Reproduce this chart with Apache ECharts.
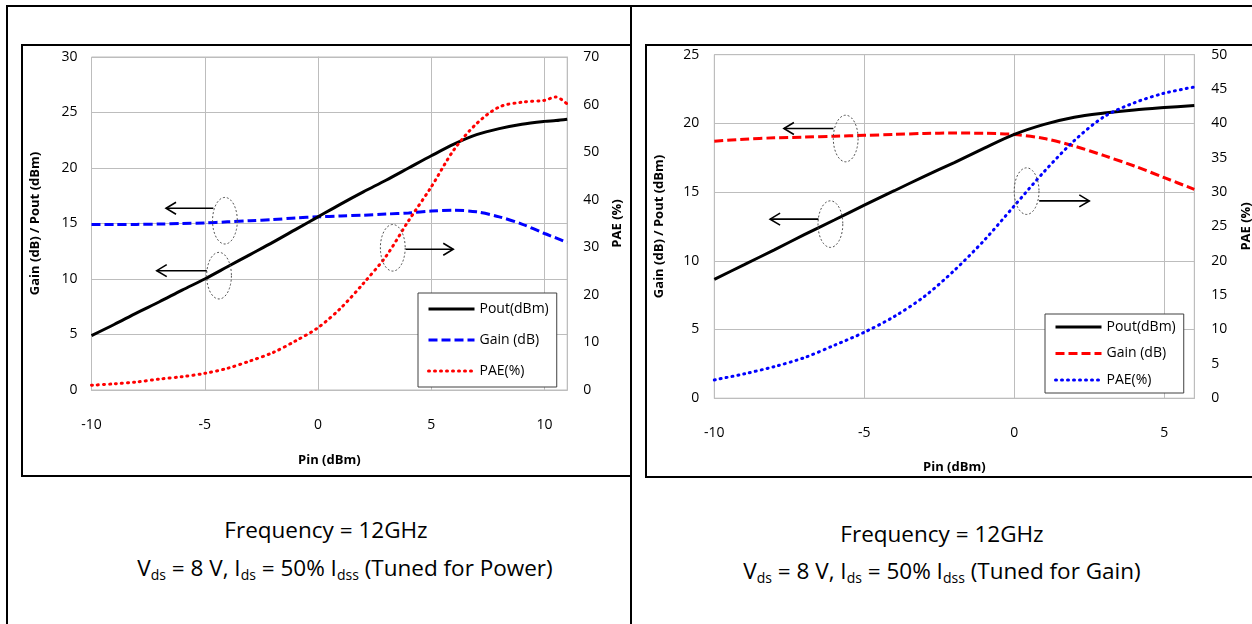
<!DOCTYPE html>
<html>
<head>
<meta charset="utf-8">
<script src="https://cdn.jsdelivr.net/npm/echarts@6/dist/echarts.min.js"></script>
<style>
  html, body { margin:0; padding:0; background:#fff; }
  body { width:1252px; height:624px; position:relative; overflow:hidden; font-family:'Open Sans', sans-serif; }
  .abs { position:absolute; background:#fff; }
  .line { position:absolute; background:#000; }
  .box { position:absolute; border:2px solid #000; box-sizing:border-box; pointer-events:none; }
  .cap { position:absolute; font-size:22.5px; color:#000; white-space:nowrap; transform:translateX(-50%); line-height:1; }
  .cap sub { font-size:14px; vertical-align:-4px; line-height:0; }
</style>
</head>
<body>
<div class="line" style="left:6px;top:5px;width:1246px;height:2px;"></div>
<div class="line" style="left:6px;top:5px;width:2px;height:619px;"></div>
<div class="line" style="left:630px;top:5px;width:2px;height:619px;"></div>

<div id="cL" class="abs" style="left:22px;top:44px;width:610px;height:432px;"></div>
<div id="cR" class="abs" style="left:646px;top:44px;width:606px;height:434px;"></div>
<div class="box" style="left:21px;top:44px;width:611px;height:433px;"></div>
<div class="box" style="left:645px;top:44px;width:640px;height:434px;"></div>

<div class="cap" style="left:326px;top:519px;">Frequency = 12GHz</div>
<div class="cap" style="left:345px;top:557px;">V<sub>ds</sub> = 8 V, I<sub>ds</sub> = 50% I<sub>dss</sub> (Tuned for Power)</div>
<div class="cap" style="left:942px;top:523px;">Frequency = 12GHz</div>
<div class="cap" style="left:942px;top:560px;">V<sub>ds</sub> = 8 V, I<sub>ds</sub> = 50% I<sub>dss</sub> (Tuned for Gain)</div>

<script>
// ---------- data ----------
const pinL  = [-10,-9,-8,-7,-6,-5,-4,-3,-2,-1,0,1,2,3,4,5,6,7,8,9,10,10.5,11];
const poutL = [4.9,5.9,6.95,7.95,9.0,10.0,11.1,12.2,13.3,14.45,15.6,16.75,17.85,18.9,20.0,21.1,22.15,23.0,23.55,23.95,24.2,24.28,24.4];
const gainL = [14.9,14.9,14.92,14.95,15.0,15.05,15.15,15.25,15.35,15.5,15.6,15.68,15.75,15.85,15.95,16.12,16.2,16.05,15.6,14.95,14.1,13.7,13.3];
const paeL  = [1.0,1.3,1.7,2.3,2.8,3.5,4.55,6.1,7.85,10.3,13.1,17.2,22.4,28.1,35.6,42.7,50.5,56.0,59.5,60.5,60.9,61.6,60.1];

const pinR  = [-10,-9,-8,-7,-6,-5,-4,-3,-2,-1,0,1,2,3,4,5,6];
const poutR = [8.65,9.72,10.8,11.9,12.97,14.05,15.1,16.15,17.15,18.2,19.2,19.93,20.45,20.75,20.98,21.15,21.3];
const gainR = [18.7,18.85,18.95,19.0,19.07,19.13,19.2,19.27,19.3,19.28,19.2,18.9,18.35,17.65,16.9,16.05,15.2];
const paeR  = [2.66,3.55,4.6,5.9,7.7,9.6,11.9,14.8,18.6,23.0,28.0,33.0,37.5,41.0,43.0,44.4,45.3];

const seriesNames = ['Pout(dBm)', 'Gain (dB)', 'PAE(%)'];
const leftAxisName = 'Gain (dB) / Pout (dBm)';
const rightAxisName = 'PAE (%)';
const xAxisName = 'Pin (dBm)';

// annotation anchors in data units (ellipse centre, arrow y, arrow start x, arrow end x; left y axis)
const annL = [
  {cx:-4.11, cy:15.25, ay:16.37, x0:-4.62, x1:-6.71},
  {cx:-4.37, cy:10.3,  ay:10.75, x0:-4.91, x1:-7.12},
  {cx: 3.30, cy:12.81, ay:12.68, x0: 3.87, x1: 5.97}
];
const annR = [
  {cx:-5.62, cy:18.9,  ay:19.63, x0:-6.03, x1:-7.68},
  {cx:-6.13, cy:12.67, ay:13.03, x0:-6.53, x1:-8.14},
  {cx: 0.41, cy:15.07, ay:14.36, x0: 0.83, x1: 2.5}
];

const zip = (xs, ys) => xs.map((x, i) => [x, ys[i]]);
const FONT = "'Open Sans', sans-serif";
const GRIDC = '#bdbdbd';

function buildOption(cfg) {
  return {
    backgroundColor: '#fff',
    animation: false,
    textStyle: { fontFamily: FONT },
    grid: {
      left: cfg.grid.left, top: cfg.grid.top, width: cfg.grid.width, height: cfg.grid.height,
      show: true, borderColor: GRIDC, borderWidth: 1, backgroundColor: '#fff',
      containLabel: false, outerBoundsMode: 'none'
    },
    legend: {
      orient: 'vertical', left: cfg.legend.left, top: cfg.legend.top,
      itemWidth: 46, itemHeight: 14, itemGap: cfg.legend.gap,
      padding: cfg.legend.padding,
      backgroundColor: '#fff', borderColor: '#404040', borderWidth: 1,
      itemStyle: { opacity: 0 },
      lineStyle: { width: 3 },
      textStyle: { fontFamily: FONT, fontSize: 14, color: '#000' },
      selectedMode: false,
      data: seriesNames
    },
    xAxis: {
      type: 'value', min: cfg.xmin, max: cfg.xmax, interval: 5,
      name: xAxisName, nameLocation: 'middle', nameGap: cfg.xNameGap,
      nameTextStyle: { fontFamily: FONT, fontSize: 13, fontWeight: 'bold', color: '#000', verticalAlign: 'top' },
      axisLine: { show: true, onZero: false, lineStyle: { color: GRIDC } },
      axisTick: { show: false },
      axisLabel: { margin: cfg.xLabelMargin, fontFamily: FONT, fontSize: 14, color: '#000',
        formatter: v => (v % 5 === 0 ? String(v) : '') },
      splitLine: { show: true, lineStyle: { color: GRIDC, width: 1 } }
    },
    yAxis: [
      {
        type: 'value', min: 0, max: cfg.yLmax, interval: 5, position: 'left',
        name: leftAxisName, nameLocation: 'middle', nameGap: cfg.yLNameGap, nameRotate: 90,
        nameMoveOverlap: false,
        nameTextStyle: { fontFamily: FONT, fontSize: 13, fontWeight: 'bold', color: '#000' },
        axisLine: { show: true, lineStyle: { color: GRIDC } },
        axisTick: { show: false },
        axisLabel: { margin: cfg.yLLabelMargin, fontFamily: FONT, fontSize: 14, color: '#000' },
        splitLine: { show: true, lineStyle: { color: GRIDC, width: 1 } }
      },
      {
        type: 'value', min: 0, max: cfg.yRmax, interval: cfg.yRint, position: 'right',
        name: rightAxisName, nameLocation: 'middle', nameGap: cfg.yRNameGap, nameRotate: 90,
        nameMoveOverlap: false,
        nameTextStyle: { fontFamily: FONT, fontSize: 13, fontWeight: 'bold', color: '#000' },
        axisLine: { show: true, lineStyle: { color: GRIDC } },
        axisTick: { show: false },
        axisLabel: { margin: cfg.yRLabelMargin, fontFamily: FONT, fontSize: 14, color: '#000' },
        splitLine: { show: false }
      }
    ],
    series: [
      {
        name: seriesNames[0], type: 'line', yAxisIndex: 0, data: zip(cfg.pin, cfg.pout),
        showSymbol: false, symbol: 'none', smooth: 0.3, z: 3,
        lineStyle: { color: '#000', width: 3, type: 'solid' }, itemStyle: { color: '#000' }
      },
      {
        name: seriesNames[1], type: 'line', yAxisIndex: 0, data: zip(cfg.pin, cfg.gain),
        showSymbol: false, symbol: 'none', smooth: 0.3, z: 2,
        lineStyle: { color: cfg.gainColor, width: 3, type: [9, 4] }, itemStyle: { color: cfg.gainColor }
      },
      {
        name: seriesNames[2], type: 'line', yAxisIndex: 1, data: zip(cfg.pin, cfg.pae),
        showSymbol: false, symbol: 'none', smooth: 0.3, z: 4,
        lineStyle: { color: cfg.paeColor, width: 3, type: [1, 5], cap: 'round' }, itemStyle: { color: cfg.paeColor }
      }
    ]
  };
}

function annotations(chart, anns) {
  const els = [];
  anns.forEach(a => {
    const c = chart.convertToPixel({ xAxisIndex: 0, yAxisIndex: 0 }, [a.cx, a.cy]);
    const p0 = chart.convertToPixel({ xAxisIndex: 0, yAxisIndex: 0 }, [a.x0, a.ay]);
    const p1 = chart.convertToPixel({ xAxisIndex: 0, yAxisIndex: 0 }, [a.x1, a.ay]);
    const rx = 12.4, ry = 23.3, pts = [];
    for (let i = 0; i < 64; i++) {
      const t = i / 64 * Math.PI * 2;
      pts.push([c[0] + rx * Math.cos(t), c[1] + ry * Math.sin(t)]);
    }
    els.push({ type: 'polygon', shape: { points: pts }, z: 50,
      style: { fill: null, stroke: '#505050', lineWidth: 1, lineDash: [2, 2] } });
    els.push({ type: 'line', shape: { x1: p0[0], y1: p0[1], x2: p1[0], y2: p1[1] }, z: 50,
      style: { stroke: '#000', lineWidth: 1.6 } });
    const dir = p1[0] < p0[0] ? 1 : -1;
    els.push({ type: 'polyline', shape: { points: [[p1[0] + dir * 10, p1[1] - 6], [p1[0], p1[1]], [p1[0] + dir * 10, p1[1] + 6]] }, z: 50,
      style: { stroke: '#000', lineWidth: 1.6, fill: null } });
  });
  chart.setOption({ graphic: els });
}

const chartL = echarts.init(document.getElementById('cL'), null, { renderer: 'canvas' });
chartL.setOption(buildOption({
  grid: { left: 69.5, top: 13, width: 475.7, height: 333 },
  legend: { left: 396, top: 249, gap: 17, padding: [9, 8, 9, 9] },
  xmin: -10, xmax: 11, yLmax: 30, yRmax: 70, yRint: 10,
  xNameGap: 64, xLabelMargin: 28, yLNameGap: 50, yRNameGap: 44, yLLabelMargin: 14, yRLabelMargin: 16,
  pin: pinL, pout: poutL, gain: gainL, pae: paeL,
  gainColor: '#0000ff', paeColor: '#ff0000'
}));
annotations(chartL, annL);

const chartR = echarts.init(document.getElementById('cR'), null, { renderer: 'canvas' });
chartR.setOption(buildOption({
  grid: { left: 68.3, top: 10.7, width: 480, height: 343.5 },
  legend: { left: 399, top: 270, gap: 12.5, padding: [6, 8, 6, 9] },
  xmin: -10, xmax: 6, yLmax: 25, yRmax: 50, yRint: 5,
  xNameGap: 63, xLabelMargin: 28, yLNameGap: 49, yRNameGap: 45, yLLabelMargin: 15, yRLabelMargin: 17,
  pin: pinR, pout: poutR, gain: gainR, pae: paeR,
  gainColor: '#ff0000', paeColor: '#0000ff'
}));
annotations(chartR, annR);
</script>
</body>
</html>
